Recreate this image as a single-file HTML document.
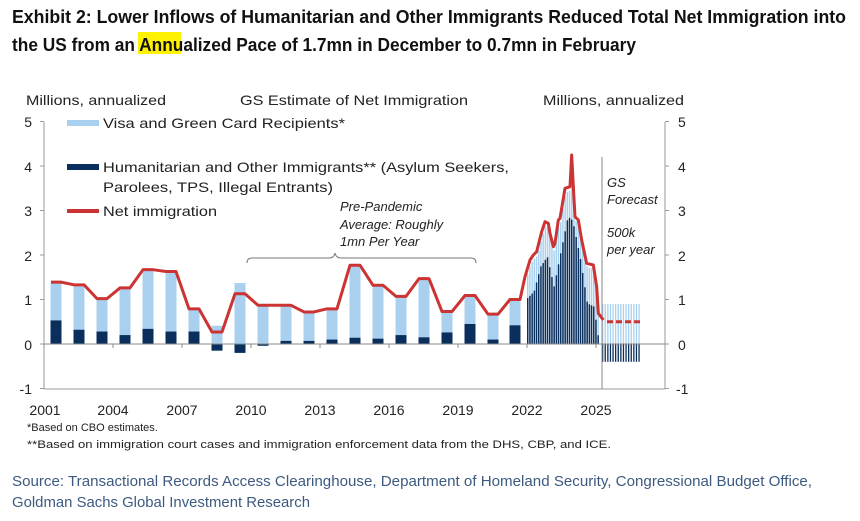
<!DOCTYPE html>
<html><head><meta charset="utf-8"><style>
html,body{margin:0;padding:0;background:#fff;}
svg{display:block;font-family:"Liberation Sans",Arial,sans-serif;}
</style></head><body>
<svg id="s" width="860" height="521" viewBox="0 0 860 521" xmlns="http://www.w3.org/2000/svg">
<rect x="138" y="32" width="43" height="22" fill="#fff200"/>
<text x="12" y="23" font-size="18" font-weight="bold" fill="#111" textLength="834" lengthAdjust="spacingAndGlyphs">Exhibit 2: Lower Inflows of Humanitarian and Other Immigrants Reduced Total Net Immigration into</text>
<text x="12" y="51" font-size="18" font-weight="bold" fill="#111" textLength="624" lengthAdjust="spacingAndGlyphs">the US from an Annualized Pace of 1.7mn in December to 0.7mn in February</text>

<g font-size="14" fill="#222">
<text x="26" y="105" textLength="140" lengthAdjust="spacingAndGlyphs">Millions, annualized</text>
<text x="240" y="105" textLength="228" lengthAdjust="spacingAndGlyphs">GS Estimate of Net Immigration</text>
<text x="543" y="105" textLength="141" lengthAdjust="spacingAndGlyphs">Millions, annualized</text>
</g>
<g id="plot"></g>
<g font-size="14" fill="#222">
<text x="103" y="128" textLength="242" lengthAdjust="spacingAndGlyphs">Visa and Green Card Recipients*</text>
<text x="103" y="172" textLength="406" lengthAdjust="spacingAndGlyphs">Humanitarian and Other Immigrants** (Asylum Seekers,</text>
<text x="103" y="192" textLength="230" lengthAdjust="spacingAndGlyphs">Parolees, TPS, Illegal Entrants)</text>
<text x="103" y="216" textLength="114" lengthAdjust="spacingAndGlyphs">Net immigration</text>
</g>
<rect x="67" y="120" width="32" height="6" fill="#a9d1ef"/>
<rect x="67" y="164" width="32" height="6" fill="#0a2f5c"/>
<rect x="67" y="209" width="32" height="4" fill="#cc3333"/>
<g font-size="13" font-style="italic" fill="#222">
<text x="340" y="211">Pre-Pandemic</text>
<text x="340" y="229">Average: Roughly</text>
<text x="340" y="246">1mn Per Year</text>
<text x="607" y="187">GS</text>
<text x="607" y="204">Forecast</text>
<text x="607" y="237">500k</text>
<text x="607" y="254">per year</text>
</g>
<path d="M247,263 q0,-5 5,-5 h77 q5,0 6,-5 q1,5 6,5 h130 q5,0 5,5" fill="none" stroke="#777" stroke-width="1"/>

<g font-size="14" fill="#222" text-anchor="middle">
<text x="45" y="415">2001</text><text x="113" y="415">2004</text><text x="182" y="415">2007</text>
<text x="251" y="415">2010</text><text x="320" y="415">2013</text><text x="389" y="415">2016</text>
<text x="458" y="415">2019</text><text x="527" y="415">2022</text><text x="596" y="415">2025</text>
</g>
<g font-size="14" fill="#222" text-anchor="end">
<text x="32" y="127">5</text><text x="32" y="172">4</text><text x="32" y="216">3</text>
<text x="32" y="261">2</text><text x="32" y="305">1</text><text x="32" y="350">0</text><text x="32" y="394">-1</text>
</g>
<g font-size="14" fill="#222">
<text x="678" y="127">5</text><text x="678" y="172">4</text><text x="678" y="216">3</text>
<text x="678" y="261">2</text><text x="678" y="305">1</text><text x="678" y="350">0</text><text x="676" y="394">-1</text>
</g>
<g font-size="11" fill="#222">
<text x="27" y="431">*Based on CBO  estimates.</text>
<text x="27" y="448" textLength="584" lengthAdjust="spacingAndGlyphs">**Based on immigration  court cases and immigration  enforcement data from the DHS, CBP,  and ICE.</text>
</g>
<g font-size="15" fill="#3d5a80">
<text x="12" y="486" textLength="800" lengthAdjust="spacingAndGlyphs">Source: Transactional Records Access Clearinghouse, Department of Homeland Security, Congressional Budget Office,</text>
<text x="12" y="507" textLength="298" lengthAdjust="spacingAndGlyphs">Goldman Sachs Global Investment Research</text>
</g>
</svg>
<script>
(function(){
var NS="http://www.w3.org/2000/svg",g=document.getElementById("plot");
function el(t,a){var e=document.createElementNS(NS,t);for(var k in a)e.setAttribute(k,a[k]);g.appendChild(e);return e;}
var Z=344,U=44.5;function Y(v){return Z-v*U;}
el("line",{x1:44,y1:122,x2:44,y2:389,stroke:"#999"});
el("line",{x1:665,y1:122,x2:665,y2:389,stroke:"#999"});
el("line",{x1:44,y1:389,x2:665,y2:389,stroke:"#999"});
for(var v=-1;v<=5;v++){el("line",{x1:40,y1:Y(v),x2:44,y2:Y(v),stroke:"#999"});el("line",{x1:665,y1:Y(v),x2:669,y2:Y(v),stroke:"#999"});}
var tot=[1.39,1.33,1.02,1.26,1.67,1.63,0.79,0.41,1.37,0.87,0.87,0.72,0.79,1.77,1.32,1.07,1.47,0.73,1.09,0.67,1.0];
var dk=[0.53,0.32,0.28,0.2,0.34,0.28,0.28,-0.15,-0.2,-0.04,0.07,0.07,0.1,0.14,0.12,0.2,0.15,0.26,0.45,0.1,0.42];
var net=[1.39,1.33,1.02,1.26,1.67,1.63,0.79,0.27,1.13,0.87,0.87,0.72,0.79,1.77,1.32,1.07,1.47,0.73,1.09,0.67,1.0];
var pts=[];
for(var i=0;i<21;i++){var cx=56+23*i-(i==20?1:0);
 var lt=Math.max(tot[i],0);el("rect",{x:cx-5.5,y:Y(lt),width:11,height:lt*U,fill:"#a9d1ef"});
 if(dk[i]>=0)el("rect",{x:cx-5.5,y:Y(dk[i]),width:11,height:dk[i]*U,fill:"#0a2f5c"});
 else el("rect",{x:cx-5.5,y:Z,width:11,height:-dk[i]*U,fill:"#0a2f5c"});
 pts.push([cx-5,Y(net[i])],[cx+5,Y(net[i])]);}
var nz=[[75,530],[90,480],[100,465],[110,455],[125,395],[135,365],[145,370],[150,400],[160,440],[165,430],[175,360],[180,355],[195,265],[210,260],[215,165],[220,260],[225,350],[235,360],[245,420],[260,490],[280,495],[290,560],[295,640],[310,660]];
var dz=[[80,595],[100,575],[120,500],[140,470],[160,560],[180,460],[200,360],[210,350],[220,380],[240,480],[260,610],[280,620],[290,690],[296,733]];
function interp(a,zx){for(var k=0;k<a.length-1;k++){if(zx>=a[k][0]&&zx<=a[k+1][0]){var t=(zx-a[k][0])/(a[k+1][0]-a[k][0]);return a[k][1]+t*(a[k+1][1]-a[k][1]);}}return zx<a[0][0]?a[0][1]:a[a.length-1][1];}
for(var x=527;x<=598;x+=2.2){var zx=(x-500)*3;var ny=100+interp(nz,zx)/3;var top=Math.min(ny+4,Z);
 el("rect",{x:x,y:top,width:1.5,height:Z-top,fill:"#a9d1ef"});
 var dy=100+interp(dz,zx)/3; if(dy<Z) el("rect",{x:x,y:dy,width:1.5,height:Z-dy,fill:"#0a2f5c"});
 else {var h=Math.min((x-596)*3,8); if(h>0) el("rect",{x:x,y:Z,width:1.5,height:h,fill:"#0a2f5c"});}}
for(var x=602;x<=641;x+=2.6){el("rect",{x:x,y:Y(0.9),width:1.3,height:0.9*U,fill:"#a9d1ef"});el("rect",{x:x,y:Z,width:1.3,height:0.4*U,fill:"#0a2f5c"});}
el("line",{x1:44,y1:Z,x2:665,y2:Z,stroke:"#888"});
for(var t=0;t<9;t++){var tx=44+69*t;el("line",{x1:tx,y1:Z,x2:tx,y2:Z+4,stroke:"#888"});}
el("line",{x1:602,y1:157,x2:602,y2:389,stroke:"#888"});
for(var k=0;k<nz.length;k++)pts.push([500+nz[k][0]/3,100+nz[k][1]/3]);
el("polyline",{points:pts.map(function(p){return p[0]+","+p[1];}).join(" "),fill:"none",stroke:"#cc3333","stroke-width":3,"stroke-linejoin":"round"});
el("line",{x1:607,y1:Y(0.5),x2:641,y2:Y(0.5),stroke:"#cc3333","stroke-width":3,"stroke-dasharray":"6,3"});
})();
</script>
</body></html>
